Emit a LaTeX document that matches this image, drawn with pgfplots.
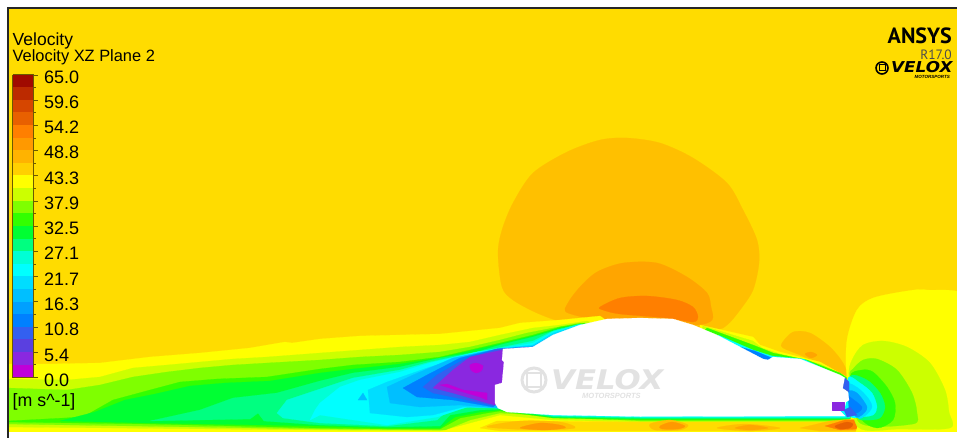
\documentclass[border=0pt]{standalone}
\usepackage{fontspec}
\setmainfont{Liberation Sans}
\newfontfamily\ansysfont{PT Sans}
\newfontfamily\logofont{DejaVu Sans}
\usepackage{pgfplots}
\pgfplotsset{compat=1.18}

% legend bands, top to bottom
\definecolor{c01}{HTML}{A00A00}
\definecolor{c02}{HTML}{BC2A00}
\definecolor{c03}{HTML}{D64600}
\definecolor{c04}{HTML}{E86000}
\definecolor{c05}{HTML}{FF7F00}
\definecolor{c06}{HTML}{FF9900}
\definecolor{c07}{HTML}{FFB300}
\definecolor{c08}{HTML}{FFD000}
\definecolor{c09}{HTML}{FFFF00}
\definecolor{c10}{HTML}{CCFF00}
\definecolor{c11}{HTML}{7FFF00}
\definecolor{c12}{HTML}{33FF00}
\definecolor{c13}{HTML}{00FF33}
\definecolor{c14}{HTML}{00FF80}
\definecolor{c15}{HTML}{00FFD5}
\definecolor{c16}{HTML}{00FFFF}
\definecolor{c17}{HTML}{00DDFF}
\definecolor{c18}{HTML}{00BFFF}
\definecolor{c19}{HTML}{00A0FF}
\definecolor{c20}{HTML}{0080FF}
\definecolor{c21}{HTML}{3360F0}
\definecolor{c22}{HTML}{5A40E0}
\definecolor{c23}{HTML}{8A28E0}
\definecolor{c24}{HTML}{C000D8}
\definecolor{bgy}{HTML}{FFDC00}
\definecolor{dome}{HTML}{FFC000}
\definecolor{tickc}{HTML}{6B5A00}
\definecolor{wm}{HTML}{E2E2E2}

\newcommand{\zone}[2]{\addplot[fill=#1,draw=#1,line width=0.2pt,line join=round] coordinates {#2} --cycle;}
\newcommand{\szone}[2]{\addplot[fill=#1,draw=#1,line width=0.2pt,smooth cycle,tension=0.5] coordinates {#2};}
\newcommand{\band}[3]{\addplot[fill=#1,draw=none] coordinates {(12.5,#2) (33.5,#2) (33.5,#3) (12.5,#3)} --cycle;}
\newcommand{\lab}[2]{\node[anchor=west,inner sep=0pt,font=\fontsize{18}{20}\selectfont] at (axis cs:44,#1) {#2};}

\begin{document}
\begin{tikzpicture}
\begin{axis}[
    x=1pt, y=1pt,
    xmin=0, xmax=957, ymin=0, ymax=438,
    y dir=reverse,
    hide axis,
    clip=true,
    unbounded coords=jump,
]
\addplot[fill=white,draw=none] coordinates {(0,0) (957,0) (957,438) (0,438)} --cycle;
\zone{bgy}{(8,8) (957,8) (957,432) (8,432)}

% dome over the roof
\szone{dome}{(502,287) (498,253) (502,230) (513,203) (533,173) (567,152) (600,140) (627,138) (660,143) (693,158) (727,183) (743,210) (757,240) (759,263) (753,290) (740,310) (727,325) (713,330) (640,335) (597,325) (563,322) (537,313) (513,300)}
\szone{c06!70!dome}{(568,303) (580,287) (597,272) (623,263) (657,263) (687,277) (707,293) (711,307) (712,320) (693,325) (613,322) (568,313)}
\szone{c05}{(600,307) (620,298) (647,296) (677,300) (693,307) (698,317) (693,322) (667,318) (620,314) (603,310)}

% blob above the windscreen
\szone{dome}{(782,343) (793,332) (810,333) (830,347) (843,363) (847,377) (827,367) (800,355) (783,348)}
\szone{c06!70!dome}{(805,354) (811,352) (817,355) (811,358)}

% wake, outer to inner
\zone{c09}{(8,364) (50,364) (100,363) (150,357) (200,353) (250,348) (285,342) (292,343) (320,339) (360,336) (400,335) (440,334) (480,330) (500,328) (520,323) (560,320) (600,316) (620,330) (640,400) (860,400) (860,432) (8,432)}
\zone{c10}{(8,379) (67,380) (100,377) (133,368) (167,365) (200,362) (233,359) (267,357) (320,353) (360,350) (400,347) (440,345) (470,342) (500,335) (533,328) (560,325) (587,321) (610,330) (640,400) (850,400) (850,422) (640,422) (553,420) (500,415) (470,423) (440,431) (320,430) (8,427)}
\zone{c11}{(8,388) (67,390) (100,385) (133,377) (167,372) (200,368) (233,365) (267,363) (320,360) (360,357) (400,355) (440,352) (470,347) (500,340) (527,333) (553,328) (580,323) (610,330) (640,400) (850,400) (850,421) (640,421) (500,413) (470,420) (445,430) (320,429) (8,424)}
\zone{c12}{(8,421) (83,417) (113,400) (150,390) (180,382) (217,379) (267,377) (320,369) (353,365) (400,362) (440,357) (470,350) (500,343) (533,335) (560,327) (585,323) (610,340) (640,400) (850,400) (850,420) (640,420) (553,418) (500,411) (487,413) (460,418) (440,429) (387,429) (320,428) (150,424) (8,422)}
\zone{c13}{(60,421) (95,412) (125,400) (155,394) (190,386) (225,383) (270,381) (320,373) (353,369) (400,364) (440,358) (470,351) (500,344) (533,336) (560,328) (585,324) (610,340) (640,400) (850,400) (850,419) (640,419) (553,417.5) (500,410) (480,412) (455,417) (440,428) (387,428) (320,426) (150,423)}
\zone{c14}{(150,421) (200,410) (233,398) (277,393) (320,381) (353,373) (400,367) (440,358) (477,352) (500,345) (533,337) (560,329) (585,324) (610,340) (640,400) (850,400) (850,418.5) (640,418.5) (553,417) (500,409) (480,410) (450,415) (440,426) (387,427) (320,425) (264,421) (258,413) (250,419)}
\zone{c15}{(277,413) (287,400) (320,389) (353,378) (400,370) (430,362) (477,352) (503,347) (533,341) (553,331) (580,324) (610,340) (640,400) (850,400) (850,417.5) (640,417.5) (553,416) (500,408) (470,407) (447,411) (437,420) (387,426) (320,423) (283,418)}
\zone{c16}{(310,420) (315,410) (320,403) (340,387) (360,380) (400,372) (430,363) (477,352) (503,348) (533,343) (553,332) (580,325) (600,330) (640,400) (850,400) (850,417) (640,417) (553,415.5) (498,408) (467,407) (437,417) (387,425) (320,415)}
\zone{c17}{(368,390) (387,382) (430,367) (477,353) (503,348) (533,345) (553,333) (580,325) (560,360) (498,408) (463,407) (433,415) (407,417) (370,413)}
\zone{c18}{(387,387) (413,375) (453,358) (497,349) (533,346) (553,335) (540,380) (498,408) (460,405) (420,407) (390,403)}
\zone{c20}{(403,388) (427,375) (460,358) (497,349) (533,347) (520,380) (493,407) (453,400) (417,397)}
\zone{c21}{(423,387) (437,375) (463,360) (497,349) (533,347) (520,380) (494,406) (467,400) (433,393)}
\zone{c23}{(433,388) (453,370) (470,357) (502,350) (533,347) (520,380) (495,405) (487,403) (453,393)}
\szone{c24}{(470,365) (476,363) (483,366) (481,371) (476,373) (471,370)}
\zone{c24}{(440,385) (447,384) (463,390) (487,393) (487,400) (480,397) (453,389)}
\zone{c18}{(358,400) (363,393) (367,400)}

% under the car
\zone{bgy}{(497,421) (640,422) (850,422) (858,426) (858,432) (700,431) (500,431) (480,428)}
\szone{dome}{(487,427) (520,421) (560,422) (575,428) (540,430)}
\szone{c06}{(520,428) (540,423) (560,425) (565,428) (545,430)}
\szone{dome}{(650,424) (670,420) (688,425) (680,430) (655,430)}
\szone{c06}{(660,426) (672,422) (685,426) (678,429) (662,429)}
\szone{dome}{(717,428) (745,424) (780,428) (750,431)}
\szone{c06!70!dome}{(735,428) (750,425) (768,428) (750,430)}
\zone{dome}{(800,428) (830,421) (852,419) (858,420) (858,431) (820,431)}
\zone{c05}{(825,426) (845,420) (856,420) (857,429) (840,430)}
\szone{c04}{(835,426) (847,422) (853,424) (850,428) (840,429)}

% layers along the windscreen
\zone{c09}{(700,325) (753,337) (760,345) (780,352) (820,362) (847,377) (840,385) (760,370) (700,335)}
\zone{c10}{(703,326) (753,341) (762,348) (780,354) (820,364) (847,377) (840,385) (760,370) (700,335)}
\zone{c12}{(707,328) (753,345) (773,353) (807,360) (840,373) (847,378) (840,385) (760,370) (700,335)}
\zone{c16}{(718,335) (753,350) (772,356) (803,359) (840,376) (840,385) (760,370)}
\zone{c20}{(740,347) (755,351) (772,358) (768,362) (760,362)}

% bubble in front of the nose
\szone{c09}{(847,377) (847,340) (857,310) (873,298) (907,291) (927,290) (970,298) (990,370) (970,445) (862,445) (858,420)}
\szone{c10}{(849,377) (852,360) (863,345) (883,341) (907,347) (930,363) (945,390) (949,412) (950,428) (900,429) (858,427)}
\szone{c11}{(850,377) (853,369) (863,360) (877,359) (897,370) (912,393) (917,413) (913,424) (860,423)}
\szone{c12}{(850,377) (862,370) (873,372) (887,387) (895,403) (893,420) (877,428) (860,417)}
\szone{c14}{(850,377) (867,380) (880,393) (885,407) (880,418) (867,420) (857,416)}
\szone{c16}{(848,378) (860,383) (872,393) (877,407) (873,415) (860,417) (850,415)}
\szone{c17}{(848,385) (858,388) (868,398) (872,407) (866,415) (857,417)}
\szone{c19}{(848,392) (857,393) (867,407) (862,415) (855,416)}
\szone{c20}{(848,396) (850,397) (862,407) (857,413) (850,412)}

% white margin below the field
\addplot[fill=white,draw=none] coordinates {(0,432) (957,432) (957,438) (0,438)} --cycle;

% car body
\zone{white}{(503,349) (533,347) (553,335) (580,325) (607,319) (640,318) (673,319) (693,325) (717,335) (740,347) (763,359) (768,360) (773,357) (800,359) (820,367) (840,375) (845,378) (843,388) (848,392) (849,400) (846,402) (844,410) (840,411) (845,416) (640,416.5) (553,415) (507,412) (498,408) (495,403) (495,385) (502,383) (504,362) (502,360)}
\zone{c23}{(832,402) (844,402) (844,410) (832,410)}
\zone{c21}{(844,410) (850,407) (857,415) (847,417)}
\zone{c21}{(845,378) (849,382) (849,392) (843,388)}

% watermark on the car
\draw[wm,line width=3pt] (axis cs:534,380) circle[radius=12pt];
\draw[wm,line width=2pt] (axis cs:527,373) -- (axis cs:541,373) -- (axis cs:541,387) -- (axis cs:527,387) -- cycle;
\node[wm,xscale=1.14,inner sep=0pt,anchor=base west,font=\logofont\fontsize{27}{28}\selectfont\bfseries\itshape] at (axis cs:551,389) {VELOX};
\node[wm,inner sep=0pt,anchor=north west,font=\fontsize{7.5}{8}\selectfont\bfseries\itshape] at (axis cs:582,393) {MOTORSPORTS};

% frame
\addplot[black!85,line width=2pt] coordinates {(8,438) (8,8) (957,8)};

% legend bar
\band{c01}{74.7}{87.4}
\band{c02}{87.3}{100}
\band{c03}{99.9}{112.6}
\band{c04}{112.5}{125.2}
\band{c05}{125.1}{137.8}
\band{c06}{137.7}{150.4}
\band{c07}{150.3}{163}
\band{c08}{162.9}{175.6}
\band{c09}{175.5}{188.2}
\band{c10}{188.1}{200.8}
\band{c11}{200.7}{213.4}
\band{c12}{213.3}{226}
\band{c13}{225.9}{238.6}
\band{c14}{238.5}{251.2}
\band{c15}{251.1}{263.8}
\band{c16}{263.7}{276.4}
\band{c17}{276.3}{289}
\band{c18}{288.9}{301.6}
\band{c19}{301.5}{314.2}
\band{c20}{314.1}{326.8}
\band{c21}{326.7}{339.4}
\band{c22}{339.3}{352}
\band{c23}{351.9}{364.6}
\band{c24}{364.5}{377.3}
\addplot[tickc,line width=0.5pt] coordinates {(12.5,74.7) (33.5,74.7) (33.5,377.3) (12.5,377.3) (12.5,74.7)};
\addplot[tickc,line width=0.5pt] coordinates {
 (33.5,75) (38,75) (nan,nan) (33.5,87.4) (36,87.4) (nan,nan)
 (33.5,100) (38,100) (nan,nan) (33.5,112.6) (36,112.6) (nan,nan)
 (33.5,125.2) (38,125.2) (nan,nan) (33.5,137.8) (36,137.8) (nan,nan)
 (33.5,150.4) (38,150.4) (nan,nan) (33.5,163) (36,163) (nan,nan)
 (33.5,175.6) (38,175.6) (nan,nan) (33.5,188.2) (36,188.2) (nan,nan)
 (33.5,200.8) (38,200.8) (nan,nan) (33.5,213.4) (36,213.4) (nan,nan)
 (33.5,226) (38,226) (nan,nan) (33.5,238.6) (36,238.6) (nan,nan)
 (33.5,251.2) (38,251.2) (nan,nan) (33.5,263.8) (36,263.8) (nan,nan)
 (33.5,276.4) (38,276.4) (nan,nan) (33.5,289) (36,289) (nan,nan)
 (33.5,301.6) (38,301.6) (nan,nan) (33.5,314.2) (36,314.2) (nan,nan)
 (33.5,326.8) (38,326.8) (nan,nan) (33.5,339.4) (36,339.4) (nan,nan)
 (33.5,352) (38,352) (nan,nan) (33.5,364.6) (36,364.6) (nan,nan)
 (33.5,377.3) (38,377.3)};

\lab{77}{65.0}
\lab{102}{59.6}
\lab{127.5}{54.2}
\lab{152.5}{48.8}
\lab{178}{43.3}
\lab{203}{37.9}
\lab{228}{32.5}
\lab{253.5}{27.1}
\lab{279}{21.7}
\lab{304}{16.3}
\lab{329.5}{10.8}
\lab{355}{5.4}
\lab{380}{0.0}
\node[anchor=base west,inner sep=0pt,font=\fontsize{17.5}{18}\selectfont] at (axis cs:12.5,46) {Velocity};
\node[anchor=base west,inner sep=0pt,font=\fontsize{16.4}{18}\selectfont] at (axis cs:12.5,62) {Velocity XZ Plane 2};
\node[anchor=base west,inner sep=0pt,font=\fontsize{17.8}{19}\selectfont] at (axis cs:12.5,406) {[m s\^{}-1]};

% top right branding
\node[anchor=base east,inner sep=0pt,font=\ansysfont\fontsize{22}{23}\selectfont\bfseries] at (axis cs:952,44) {ANSYS};
\node[anchor=base east,inner sep=0pt,text=black!70,font=\ansysfont\fontsize{13.5}{15}\selectfont] at (axis cs:952,60) {R17.0};
\draw[black,line width=1.6pt] (axis cs:882,68) circle[radius=6pt];
\draw[black,line width=1pt] (axis cs:879,65) -- (axis cs:885,65) -- (axis cs:885,71) -- (axis cs:879,71) -- cycle;
\node[black,xscale=1.12,inner sep=0pt,anchor=base west,font=\logofont\fontsize{15}{16}\selectfont\bfseries\itshape] at (axis cs:891,73) {VELOX};
\node[black,inner sep=0pt,anchor=north east,font=\fontsize{4.5}{5}\selectfont\bfseries\itshape] at (axis cs:950,75.5) {MOTORSPORTS};
\end{axis}
\end{tikzpicture}
\end{document}
